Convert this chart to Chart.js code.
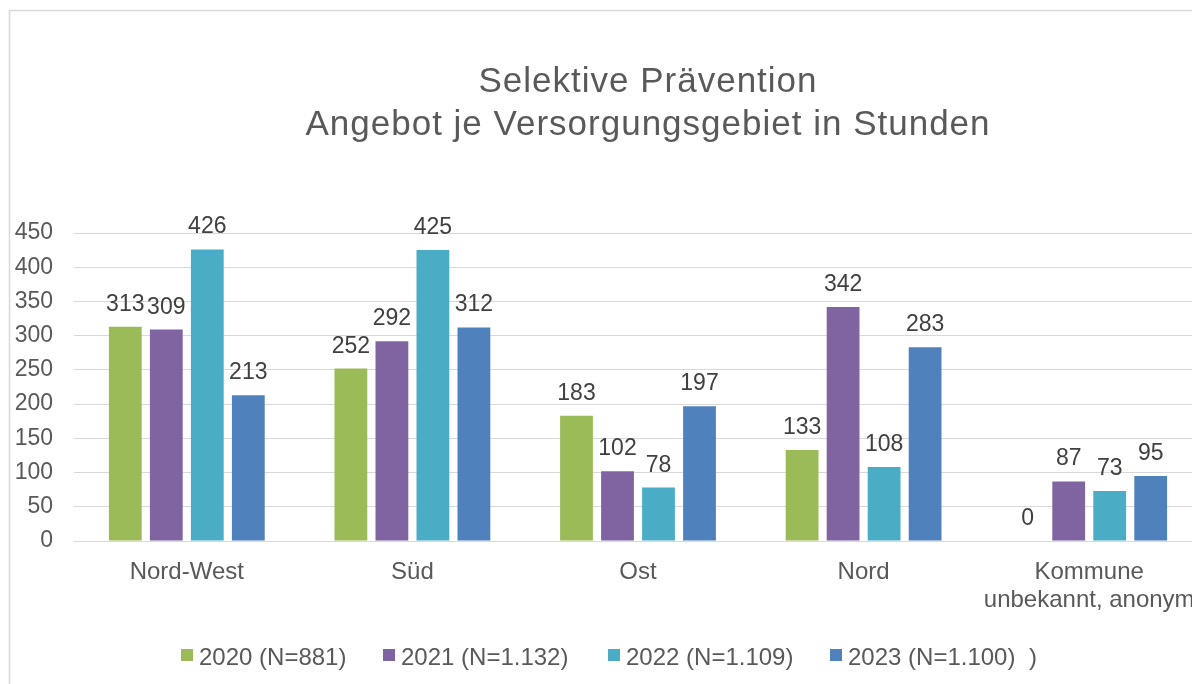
<!DOCTYPE html>
<html>
<head>
<meta charset="utf-8">
<script src="https://cdn.jsdelivr.net/npm/chart.js@4/dist/chart.umd.min.js"></script>
<style>
  html, body { margin: 0; padding: 0; background: #fff; overflow: hidden; width: 1192px; height: 684px; }
  canvas { display: block; }
</style>
</head>
<body>
<canvas id="myChart" width="1300" height="684"></canvas>
<script>
// data
const categories = ['Nord-West', 'Süd', 'Ost', 'Nord', ['Kommune', 'unbekannt, anonym']];
const seriesNames = ['2020 (N=881)', '2021 (N=1.132)', '2022 (N=1.109)', '2023 (N=1.100)'];
const values2020 = [313, 252, 183, 133, 0];
const values2021 = [309, 292, 102, 342, 87];
const values2022 = [426, 425, 78, 108, 73];
const values2023 = [213, 312, 197, 283, 95];
const yTicks = [0, 50, 100, 150, 200, 250, 300, 350, 400, 450];
const titleLines = ['Selektive Prävention', 'Angebot je Versorgungsgebiet in Stunden'];

const colors = ['#9BBB59', '#8064A2', '#4BACC6', '#4F81BD'];
const FONT = '"Liberation Sans", Arial, sans-serif';
const ctx = document.getElementById('myChart').getContext('2d');

// frame, title, value labels and legend are drawn by hand
const extras = {
  id: 'extras',
  beforeDraw(chart) {
    const c = chart.ctx;
    c.save();
    c.strokeStyle = '#d9d9d9';
    c.lineWidth = 1.5;
    c.beginPath();
    c.moveTo(9.5, 684);
    c.lineTo(9.5, 10.5);
    c.lineTo(1300, 10.5);
    c.stroke();
    c.restore();
  },
  afterDatasetsDraw(chart) {
    const c = chart.ctx;
    c.save();
    // title
    c.fillStyle = '#595959';
    c.font = '35px ' + FONT;
    c.letterSpacing = '1px';
    c.textAlign = 'center';
    c.textBaseline = 'alphabetic';
    c.fillText(titleLines[0], 648, 92);
    c.fillText(titleLines[1], 648, 135);
    c.letterSpacing = '0px';

    // values above bars
    c.fillStyle = '#404040';
    c.font = '23px ' + FONT;
    chart.data.datasets.forEach((ds, i) => {
      chart.getDatasetMeta(i).data.forEach((bar, j) => {
        c.fillText(String(ds.data[j]), bar.x, bar.y - 16);
      });
    });

    // legend
    const legendX = [181, 383, 608, 830];
    c.font = '24px ' + FONT;
    c.textAlign = 'left';
    seriesNames.forEach((name, i) => {
      c.fillStyle = colors[i];
      c.fillRect(legendX[i], 649, 12, 12);
      c.fillStyle = '#595959';
      c.fillText(name, legendX[i] + 18, 665);
    });
    c.fillText(')', 1029, 665);
    c.restore();
  }
};

const datasets = [values2020, values2021, values2022, values2023].map((vals, i) => ({
  label: seriesNames[i],
  data: vals,
  backgroundColor: colors[i],
  categoryPercentage: 0.727,
  barPercentage: 0.8
}));

const myChart = new Chart(ctx, {
  type: 'bar',
  data: { labels: categories, datasets: datasets },
  options: {
    responsive: false,
    animation: false,
    devicePixelRatio: 1,
    layout: { padding: { top: 233, right: 98, bottom: 43, left: 0 } },
    plugins: {
      legend: { display: false },
      title: { display: false },
      tooltip: { enabled: false }
    },
    scales: {
      x: {
        grid: { display: false },
        border: { display: false },
        ticks: {
          color: '#595959',
          font: { family: FONT, size: 24, lineHeight: 1.17 },
          padding: 9,
          maxRotation: 0,
          autoSkip: false
        },
        afterFit(scale) { scale.height = 100; }
      },
      y: {
        min: 0,
        max: 450,
        afterBuildTicks(scale) { scale.ticks = yTicks.map(v => ({ value: v })); },
        grid: { color: '#d9d9d9', lineWidth: 1, drawTicks: false },
        border: { display: false },
        ticks: {
          color: '#595959',
          font: { family: FONT, size: 23 },
          padding: 21
        },
        afterFit(scale) { scale.width = 74; }
      }
    }
  },
  plugins: [extras]
});
</script>
</body>
</html>
